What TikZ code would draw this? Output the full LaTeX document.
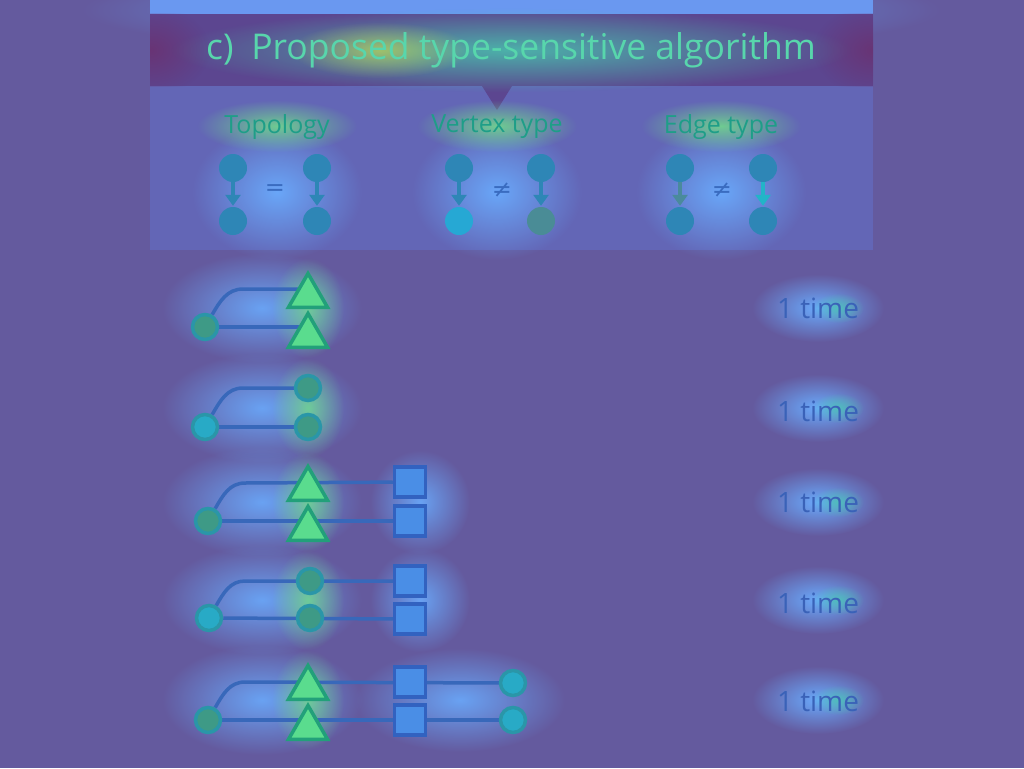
\documentclass[tikz,border=0pt]{standalone}
\usepackage{fontspec}
\setmainfont{Open Sans}
\newfontfamily\dv{DejaVu Sans}
\usetikzlibrary{shapes.geometric,arrows.meta,calc,fadings}
\pgfdeclarelayer{back}
\pgfdeclarelayer{bg}
\pgfsetlayers{back,bg,main}
\tikzfading[name=glowfade, inner color=transparent!0, outer color=transparent!100]
\definecolor{bgc}{HTML}{645A9E}
\definecolor{topstrip}{HTML}{6A98F0}
\definecolor{banner}{HTML}{5C4690}
\definecolor{bannerend}{HTML}{6A3272}
\definecolor{boxc}{HTML}{6366B6}
\definecolor{titlec}{HTML}{58D6AC}
\definecolor{labc}{HTML}{1E9E88}
\definecolor{nodec}{HTML}{2E86B6}
\definecolor{cyanc}{HTML}{26A8D4}
\definecolor{olivec}{HTML}{4A8C96}
\definecolor{greyarr}{HTML}{4A8A9C}
\definecolor{cyanarr}{HTML}{22B4C8}
\definecolor{eqc}{HTML}{3A6CC0}
\definecolor{mcirc}{HTML}{3E9A86}
\definecolor{mcircd}{HTML}{2A96A8}
\definecolor{mcyan}{HTML}{28AAC6}
\definecolor{trif}{HTML}{5ADC8E}
\definecolor{trid}{HTML}{22A07A}
\definecolor{sqf}{HTML}{4A8EE6}
\definecolor{sqd}{HTML}{3262C0}
\definecolor{linec}{HTML}{3868BA}
\definecolor{timec}{HTML}{3A62B8}
\definecolor{glowb}{HTML}{6AAAFC}
\definecolor{glowg}{HTML}{72E488}
\definecolor{glowt}{HTML}{48CCB0}
\definecolor{glowy}{HTML}{C8E050}
\newcommand{\myglow}[6]{\fill[#5,opacity=#6,path fading=glowfade] (#1,#2) ellipse ({#3} and {#4});}
\tikzset{
  tnode/.style={circle,fill=nodec,minimum size=28pt,inner sep=0pt},
  tarr/.style={line width=4pt,draw=nodec,-{Triangle[width=15pt,length=11pt]},shorten >=1pt},
  lab/.style={font=\fontsize{25}{28}\selectfont,text=labc},
  rel/.style={font=\dv\fontsize{24}{26}\selectfont,text=eqc},
  mc/.style={circle,draw=mcircd,fill=mcirc,line width=3.5pt,minimum size=25pt,inner sep=0pt},
  mcy/.style={mc,fill=mcyan},
  tri/.style={regular polygon,regular polygon sides=3,draw=trid,fill=trif,line width=3.5pt,minimum size=45pt,inner sep=0pt,anchor=corner 1},
  sq/.style={rectangle,draw=sqd,fill=sqf,line width=3.5pt,minimum width=31pt,minimum height=30pt,inner sep=0pt},
  ln/.style={draw=linec,line width=3.5pt},
  tm/.style={font=\fontsize{28}{30}\selectfont,text=timec}
}
\begin{document}
\begin{tikzpicture}[x=1pt,y=-1pt]
\useasboundingbox (0,0) rectangle (1024,768);
\begin{pgfonlayer}{back}
\fill[bgc] (0,0) rectangle (1024,768);
\myglow{511}{10}{430}{45}{glowb}{0.9}
\fill[topstrip] (150,0) rectangle (873,14);
\fill[boxc] (150,86) rectangle (873,250);
\fill[banner] (150,14) rectangle (873,86);
\fill[banner] (482,86) -- (512,86) -- (497,110) -- cycle;
\begin{scope}
\clip (150,14) rectangle (873,86);
\myglow{150}{50}{60}{45}{bannerend}{0.9}
\myglow{873}{50}{60}{45}{bannerend}{0.9}
\end{scope}
% glows: title
\myglow{511}{50}{340}{42}{glowt}{0.8}
\myglow{380}{50}{90}{28}{glowy}{0.65}
% glows: labels and columns
\foreach \cx in {277,497,721}{
  \myglow{\cx}{192}{85}{68}{glowb}{0.95}
  \myglow{\cx}{126}{80}{26}{glowg}{0.8}
}
% glows: motif rows
\foreach \ry in {308,408,502,600,700}{
  \myglow{262}{\ry}{100}{55}{glowb}{0.9}
}
\myglow{420}{502}{50}{52}{glowb}{0.9}
\myglow{420}{600}{50}{52}{glowb}{0.9}
\myglow{460}{700}{105}{52}{glowb}{0.9}
\foreach \ry in {308,408,502,600,700}{
  \myglow{308}{\ry}{36}{50}{glowg}{0.75}
  \myglow{818}{\ry}{66}{34}{glowb}{1}
  \myglow{838}{\ry}{26}{15}{glowt}{0.75}
}
\end{pgfonlayer}
\node[font=\fontsize{35.5}{38}\selectfont,text=titlec] (title) at (511,50) {c)\enspace Proposed type-sensitive algorithm};
% column labels
\node[lab] (l1) at (277,127) {Topology};
\node[lab] (l2) at (497,127) {Vertex type};
\node[lab] (l3) at (721,127) {Edge type};
% topology
\node[tnode] (a1) at (233,168) {};
\node[tnode] (a2) at (233,221) {};
\node[tnode] (b1) at (317,168) {};
\node[tnode] (b2) at (317,221) {};
\draw[tarr] (a1) -- (a2);
\draw[tarr] (b1) -- (b2);
\node[rel] (eq1) at (275,190) {=};
% vertex type
\node[tnode] (c1) at (459,168) {};
\node[tnode,fill=cyanc] (c2) at (459,221) {};
\node[tnode] (d1) at (541,168) {};
\node[tnode,fill=olivec] (d2) at (541,221) {};
\draw[tarr] (c1) -- (c2);
\draw[tarr] (d1) -- (d2);
\node[rel] (ne1) at (502,190) {≠};
% edge type
\node[tnode] (e1) at (680,168) {};
\node[tnode] (e2) at (680,221) {};
\node[tnode] (f1) at (763,168) {};
\node[tnode] (f2) at (763,221) {};
\draw[tarr,draw=greyarr] (e1) -- (e2);
\draw[tarr,draw=cyanarr] (f1) -- (f2);
\node[rel] (ne2) at (722,190) {≠};
% row 1
\node[mc] (r1L) at (205,327) {};
\node[tri] (r1T1) at (308,270) {};
\node[tri] (r1T2) at (308,310) {};
\coordinate (r1k) at (243,289);
% row 2
\node[mcy] (r2L) at (205,427) {};
\node[mc] (r2C1) at (308,388) {};
\node[mc] (r2C2) at (308,427) {};
\coordinate (r2k) at (243,388);
% row 3
\node[mc] (r3L) at (208,521) {};
\node[tri] (r3T1) at (308,463) {};
\node[tri] (r3T2) at (308,503) {};
\node[sq] (r3S1) at (410,482) {};
\node[sq] (r3S2) at (410,521) {};
\coordinate (r3k) at (245,483);
% row 4
\node[mcy] (r4L) at (209,618) {};
\node[mc] (r4C1) at (310,581) {};
\node[mc] (r4C2) at (310,618) {};
\node[sq] (r4S1) at (410,581) {};
\node[sq] (r4S2) at (410,619) {};
\coordinate (r4k) at (245,581);
% row 5
\node[mc] (r5L) at (208,720) {};
\node[tri] (r5T1) at (308,662) {};
\node[tri] (r5T2) at (308,702) {};
\node[sq] (r5S1) at (410,682) {};
\node[sq] (r5S2) at (410,720) {};
\node[mcy] (r5R1) at (513,683) {};
\node[mcy] (r5R2) at (513,720) {};
\coordinate (r5k) at (245,682);
\begin{pgfonlayer}{bg}
\draw[ln] (r1L) -- (r1L -| r1T2);
\draw[ln] (r1L) to[out=60,in=180] (r1k) -- (r1k -| r1T1);
\draw[ln] (r2L) -- (r2C2);
\draw[ln] (r2L) to[out=60,in=180] (r2k) -- (r2C1);
\draw[ln] (r3L) -- (r3S2);
\draw[ln] (r3L) to[out=60,in=180] (r3k) -- (r3S1);
\draw[ln] (r4L) -- (r4S2);
\draw[ln] (r4L) to[out=60,in=180] (r4k) -- (r4S1);
\draw[ln] (r5L) -- (r5R2);
\draw[ln] (r5L) to[out=60,in=180] (r5k) -- (r5R1);
\end{pgfonlayer}
% counts
\node[tm] (t1) at (818,308) {1 time};
\node[tm] (t2) at (818,411) {1 time};
\node[tm] (t3) at (818,502) {1 time};
\node[tm] (t4) at (818,603) {1 time};
\node[tm] (t5) at (818,701) {1 time};
\end{tikzpicture}
\end{document}
